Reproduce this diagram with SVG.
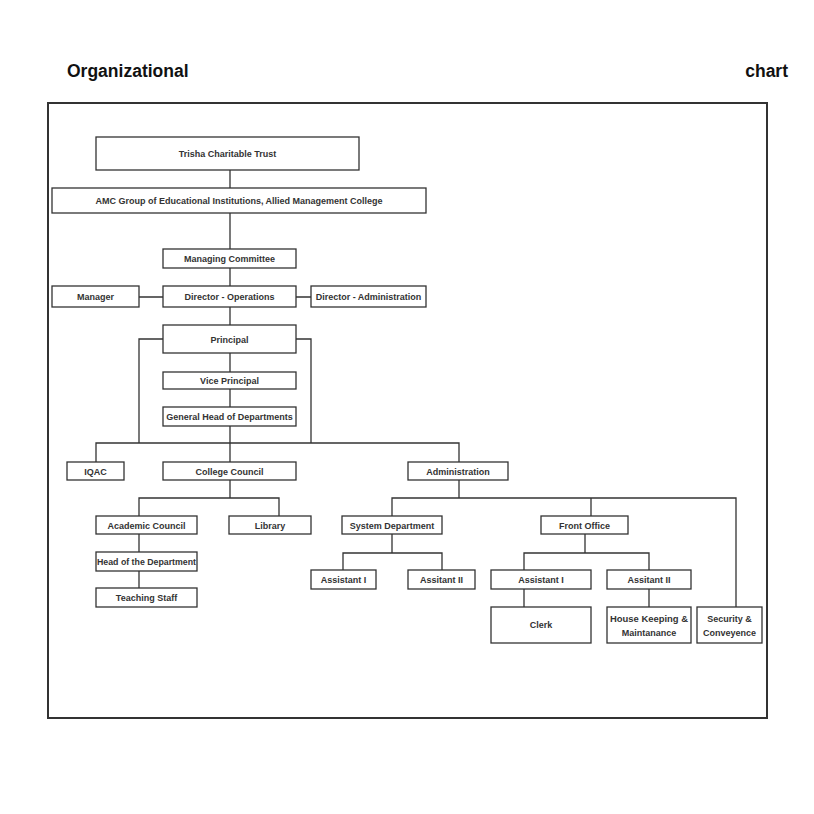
<svg xmlns="http://www.w3.org/2000/svg" width="814" height="814" viewBox="0 0 814 814">
<style>
.box{fill:#fff;stroke:#333;stroke-width:1.3}
.t{font-family:"Liberation Sans",Arial,sans-serif;font-weight:bold;font-size:9px;fill:#333;text-anchor:middle}
.title{font-family:"Liberation Sans",Arial,sans-serif;font-weight:bold;font-size:17.5px;fill:#111}
.c{fill:none;stroke:#333;stroke-width:1.3}
</style>
<rect width="814" height="814" fill="#fff"/>
<text class="title" x="67" y="77">Organizational</text>
<text class="title" x="788" y="77" text-anchor="end">chart</text>
<rect x="48" y="103" width="719" height="615" fill="none" stroke="#333" stroke-width="2"/>
<g id="connectors">
<path class="c" d="M230 170V188M230 213V249M230 268V286M230 307V325M139 297H163M296 297H311"/>
<path class="c" d="M230 353V372M230 389V407M230 426V462"/>
<path class="c" d="M163 339H139V443M296 339H311V443M96 462V443H459V462"/>
<path class="c" d="M230 480V498M139 516V498H279V516M139 534V552M139 571V588"/>
<path class="c" d="M459 480V498M392 516V498H736V607M591 498V516"/>
<path class="c" d="M392 534V553M343 570V553H442V570M585 534V553M524 570V553H649V570M524 589V607M649 589V607"/>
</g>
<g id="trust"><rect class="box" x="96" y="137" width="263" height="33"/><text class="t" x="227.5" y="157">Trisha Charitable Trust</text></g>
<g id="amc"><rect class="box" x="52" y="188" width="374" height="25"/><text class="t" x="239" y="204">AMC Group of Educational Institutions, Allied Management College</text></g>
<g id="managing"><rect class="box" x="163" y="249" width="133" height="19"/><text class="t" x="229.5" y="262">Managing Committee</text></g>
<g id="manager"><rect class="box" x="52" y="286" width="87" height="21"/><text class="t" x="95.5" y="300">Manager</text></g>
<g id="dirops"><rect class="box" x="163" y="286" width="133" height="21"/><text class="t" x="229.5" y="300">Director - Operations</text></g>
<g id="diradmin"><rect class="box" x="311" y="286" width="115" height="21"/><text class="t" x="368.5" y="300">Director - Administration</text></g>
<g id="principal"><rect class="box" x="163" y="325" width="133" height="28"/><text class="t" x="229.5" y="343">Principal</text></g>
<g id="vice"><rect class="box" x="163" y="372" width="133" height="17"/><text class="t" x="229.5" y="384">Vice Principal</text></g>
<g id="ghod"><rect class="box" x="163" y="407" width="133" height="19"/><text class="t" x="229.5" y="420">General Head of Departments</text></g>
<g id="iqac"><rect class="box" x="67" y="462" width="57" height="18"/><text class="t" x="95.5" y="474.5">IQAC</text></g>
<g id="council"><rect class="box" x="163" y="462" width="133" height="18"/><text class="t" x="229.5" y="474.5">College Council</text></g>
<g id="administration"><rect class="box" x="408" y="462" width="100" height="18"/><text class="t" x="458" y="474.5">Administration</text></g>
<g id="academic"><rect class="box" x="96" y="516" width="101" height="18"/><text class="t" x="146.5" y="528.5">Academic Council</text></g>
<g id="library"><rect class="box" x="229" y="516" width="82" height="18"/><text class="t" x="270" y="528.5">Library</text></g>
<g id="hod"><rect class="box" x="96" y="552" width="101" height="19"/><text class="t" x="146.5" y="565" textLength="99" lengthAdjust="spacingAndGlyphs">Head of the Department</text></g>
<g id="teaching"><rect class="box" x="96" y="588" width="101" height="19"/><text class="t" x="146.5" y="601">Teaching Staff</text></g>
<g id="sysdept"><rect class="box" x="342" y="516" width="100" height="18"/><text class="t" x="392" y="528.5">System Department</text></g>
<g id="frontoffice"><rect class="box" x="541" y="516" width="87" height="18"/><text class="t" x="584.5" y="528.5">Front Office</text></g>
<g id="sys-a1"><rect class="box" x="311" y="570" width="65" height="19"/><text class="t" x="343.5" y="583">Assistant I</text></g>
<g id="sys-a2"><rect class="box" x="408" y="570" width="67" height="19"/><text class="t" x="441.5" y="583">Assitant II</text></g>
<g id="fo-a1"><rect class="box" x="491" y="570" width="100" height="19"/><text class="t" x="541" y="583">Assistant I</text></g>
<g id="fo-a2"><rect class="box" x="607" y="570" width="84" height="19"/><text class="t" x="649" y="583">Assitant II</text></g>
<g id="clerk"><rect class="box" x="491" y="607" width="100" height="36"/><text class="t" x="541" y="628">Clerk</text></g>
<g id="housekeeping"><rect class="box" x="607" y="607" width="84" height="36"/><text class="t" x="649" y="622" textLength="78" lengthAdjust="spacingAndGlyphs">House Keeping &amp;</text><text class="t" x="649" y="635.5">Maintanance</text></g>
<g id="security"><rect class="box" x="697" y="607" width="65" height="36"/><text class="t" x="729.5" y="622">Security &amp;</text><text class="t" x="729.5" y="635.5">Conveyence</text></g>
</svg>
